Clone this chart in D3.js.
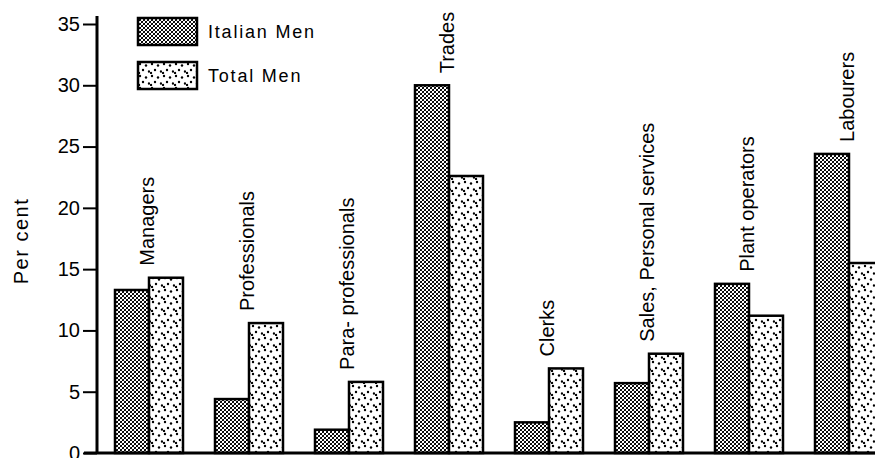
<!DOCTYPE html>
<html>
<head>
<meta charset="utf-8">
<script src="https://cdn.jsdelivr.net/npm/d3@7"></script>
<style>
  body { margin: 0; background: #fff; }
  svg { display: block; }
  text { font-family: "Liberation Sans", Arial, sans-serif; fill: #000; }
</style>
</head>
<body>
<svg width="875" height="458"></svg>
<script>
// occupations and percentages
var categories = ["Managers", "Professionals", "Para- professionals", "Trades",
                  "Clerks", "Sales, Personal services", "Plant operators", "Labourers"];
var italianMen = [13.3, 4.4, 1.9, 30.0, 2.5, 5.7, 13.8, 24.4];
var totalMen   = [14.3, 10.6, 5.8, 22.6, 6.9, 8.1, 11.2, 15.5];
var seriesNames = ["Italian Men", "Total Men"];
var yTicks = [0, 5, 10, 15, 20, 25, 30, 35];

var svg = d3.select('svg');

var data = categories.map(function(c, i) {
    return { cat: c, values: [italianMen[i], totalMen[i]] };
});

// patterns: crosshatch for Italian men, stipple for total men
var defs = svg.append('defs');
var hatch = defs.append('pattern')
    .attr('id', 'hatch').attr('patternUnits', 'userSpaceOnUse')
    .attr('width', 4).attr('height', 4);
hatch.append('rect').attr('width', 4).attr('height', 4).attr('fill', '#fff');
hatch.append('path').attr('d', 'M-1,1 L1,-1 M0,4 L4,0 M3,5 L5,3')
    .attr('stroke', '#000').attr('stroke-width', 1.0);
hatch.append('path').attr('d', 'M-1,3 L1,5 M0,0 L4,4 M3,-1 L5,1')
    .attr('stroke', '#000').attr('stroke-width', 0.9);

var dots = defs.append('pattern')
    .attr('id', 'dots').attr('patternUnits', 'userSpaceOnUse')
    .attr('width', 12).attr('height', 12);
dots.append('rect').attr('width', 12).attr('height', 12).attr('fill', '#fff');
[[2, 2], [8, 3.5], [5, 8], [11, 9.5], [1, 11]].forEach(function(p) {
    dots.append('circle').attr('cx', p[0]).attr('cy', p[1]).attr('r', 1.2).attr('fill', '#000');
});
var fills = ['url(#hatch)', 'url(#dots)'];

var x0 = d3.scaleBand().domain(categories).range([115, 883])
    .paddingInner(0.32).paddingOuter(0).align(0);
var x1 = d3.scaleBand().domain([0, 1]).range([0, x0.bandwidth()]);
var y = d3.scaleLinear().domain([0, 35]).range([453, 24]);

// bars
var groups = svg.append('g').selectAll('g').data(data)
    .enter().append('g')
    .attr('transform', function(d) { return 'translate(' + x0(d.cat) + ',0)'; });

groups.selectAll('rect').data(function(d) { return d.values; })
    .enter().append('rect')
    .attr('x', function(d, i) { return x1(i); })
    .attr('y', function(d) { return y(d); })
    .attr('width', x1.bandwidth())
    .attr('height', function(d) { return y(0) - y(d); })
    .attr('fill', function(d, i) { return fills[i]; })
    .attr('stroke', '#000').attr('stroke-width', 2.5);

// category labels standing above each pair
groups.append('text')
    .attr('transform', function(d) {
        return 'translate(' + (x0.bandwidth() / 2 - 2) + ',' + (y(d3.max(d.values)) - 12) + ') rotate(-90)';
    })
    .attr('dy', '0.36em')
    .attr('font-size', 20)
    .text(function(d) { return d.cat; });

// y axis
var yAxis = svg.append('g')
    .attr('transform', 'translate(97,0)')
    .call(d3.axisLeft(y).tickValues(yTicks).tickSize(14).tickSizeOuter(0).tickPadding(3));
yAxis.select('.domain').remove();
yAxis.selectAll('line').attr('stroke', '#000').attr('stroke-width', 2);
yAxis.selectAll('text').attr('font-size', 20).attr('font-family', '"Liberation Sans", Arial, sans-serif');

svg.append('line')
    .attr('x1', 97).attr('x2', 97).attr('y1', y(35) - 8).attr('y2', y(0))
    .attr('stroke', '#000').attr('stroke-width', 3);
svg.append('line')
    .attr('x1', 84).attr('x2', 875).attr('y1', y(0)).attr('y2', y(0))
    .attr('stroke', '#000').attr('stroke-width', 3);

svg.append('text')
    .attr('transform', 'translate(21,241) rotate(-90)')
    .attr('text-anchor', 'middle').attr('dy', '0.36em')
    .attr('font-size', 20).attr('letter-spacing', 1.5)
    .text('Per cent');

// legend
var legend = svg.append('g').selectAll('g').data(seriesNames)
    .enter().append('g')
    .attr('transform', function(d, i) { return 'translate(138,' + (18 + i * 44) + ')'; });
legend.append('rect')
    .attr('width', 59).attr('height', 27)
    .attr('fill', function(d, i) { return fills[i]; })
    .attr('stroke', '#000').attr('stroke-width', 2.5);
legend.append('text')
    .attr('x', 70).attr('y', 20)
    .attr('font-size', 18).attr('letter-spacing', 1.8)
    .text(function(d) { return d; });
</script>
</body>
</html>
